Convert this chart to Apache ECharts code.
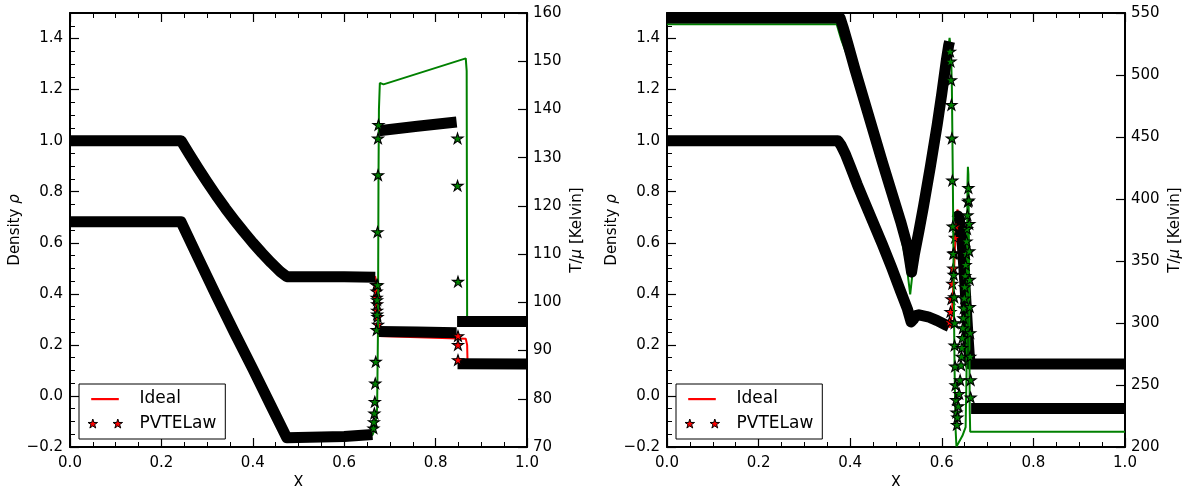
<!DOCTYPE html>
<html>
<head>
<meta charset="utf-8">
<script src="https://cdn.jsdelivr.net/npm/echarts@6/dist/echarts.min.js"></script>
<style>
  html, body { margin: 0; padding: 0; background: #ffffff; }
  #chart { width: 1189px; height: 486px; }
</style>
</head>
<body>
<div id="chart"></div>
<script>
// ---------------- axis ranges ----------------
const X_RANGE = [0, 1], X_STEP = 0.2;
const RHO_RANGE = [-0.2, 1.5], RHO_STEP = 0.2, RHO_MINOR_STEP = 0.05;
const T_RANGE_LEFT = [70, 160], T_STEP_LEFT = 10;
const T_RANGE_RIGHT = [200, 550], T_STEP_RIGHT = 50;

// ---------------- left panel: density ----------------
const lIdealRhoX = [0, 0.243, 0.26, 0.28, 0.30, 0.32, 0.34, 0.36, 0.38, 0.40, 0.42, 0.44, 0.46, 0.4745, 0.668, 0.672, 0.675, 0.866, 0.869, 0.870, 1.0];
const lIdealRhoY = [1.0, 1.0, 0.95, 0.893, 0.838, 0.785, 0.735, 0.688, 0.643, 0.600, 0.560, 0.522, 0.487, 0.467, 0.467, 0.40, 0.235, 0.224, 0.20, 0.125, 0.125];

const lRhoBandX = [0, 0.243, 0.26, 0.28, 0.30, 0.32, 0.34, 0.36, 0.38, 0.40, 0.42, 0.44, 0.46, 0.4745, 0.60, 0.668, 0.669, 0.676, 0.76, 0.846, 0.847, 0.848, 1.0];
const lRhoBandY = [1.0, 1.0, 0.95, 0.893, 0.838, 0.785, 0.735, 0.688, 0.643, 0.600, 0.560, 0.522, 0.487, 0.467, 0.467, 0.465, null, 0.252, 0.25, 0.248, null, 0.126, 0.125];

const lRhoStarX = [0.670, 0.671, 0.671, 0.672, 0.672, 0.673, 0.674, 0.849, 0.849, 0.849];
const lRhoStarY = [0.435, 0.41, 0.385, 0.36, 0.335, 0.31, 0.28, 0.235, 0.200, 0.141];

// ---------------- left panel: temperature ----------------
const lIdealTX = [0, 0.243, 0.28, 0.32, 0.36, 0.40, 0.44, 0.4745, 0.60, 0.662, 0.668, 0.672, 0.674, 0.675, 0.676, 0.678, 0.686, 0.866, 0.868, 0.869, 1.0];
const lIdealTY = [116.7, 116.7, 109.3, 101.4, 93.7, 86.2, 78.5, 71.9, 72.2, 72.5, 74.0, 78.0, 95, 125, 140, 145.5, 145.2, 150.6, 148, 96.0, 96.0];

const lTBandX = [0, 0.243, 0.28, 0.32, 0.36, 0.40, 0.44, 0.4745, 0.60, 0.662, 0.663, 0.676, 0.76, 0.846, 0.847, 0.847, 1.0];
const lTBandY = [116.7, 116.7, 109.3, 101.4, 93.7, 86.2, 78.5, 71.9, 72.2, 72.6, null, 135.6, 136.5, 137.4, null, 96.0, 96.0];

const lTStarX = [0.664, 0.665, 0.666, 0.667, 0.668, 0.669, 0.671, 0.672, 0.672, 0.673, 0.673, 0.674, 0.674, 0.675, 0.848, 0.848, 0.849];
const lTStarY = [73.9, 75.2, 77.0, 79.4, 83.2, 87.7, 94.3, 97.5, 100.5, 103.6, 114.6, 126.4, 134.0, 136.8, 134.0, 124.2, 104.3];

// ---------------- right panel: density ----------------
const rIdealRhoX = [0, 0.373, 0.38, 0.39, 0.40, 0.415, 0.43, 0.45, 0.47, 0.49, 0.51, 0.525, 0.533, 0.543, 0.55, 0.57, 0.59, 0.61, 0.618, 0.622, 0.627, 0.631, 0.634, 0.638, 0.645, 0.652, 0.657, 0.661, 0.663, 1.0];
const rIdealRhoY = [1.0, 1.0, 0.982, 0.945, 0.90, 0.83, 0.765, 0.68, 0.595, 0.505, 0.41, 0.34, 0.29, 0.315, 0.318, 0.31, 0.295, 0.277, 0.27, 0.32, 0.50, 0.68, 0.73, 0.70, 0.60, 0.40, 0.22, 0.13, 0.125, 0.125];

const rRhoBandX = [0, 0.373, 0.38, 0.39, 0.40, 0.415, 0.43, 0.45, 0.47, 0.49, 0.51, 0.525, 0.533, 0.538, 0.543, 0.55, 0.57, 0.59, 0.61, 0.616, 0.617, 0.633, 0.635, 0.638, 0.641, 0.645, 0.649, 0.653, 0.657, 0.660, 0.662, 1.0];
const rRhoBandY = [1.0, 1.0, 0.982, 0.945, 0.90, 0.83, 0.765, 0.68, 0.595, 0.505, 0.41, 0.34, 0.29, 0.30, 0.315, 0.318, 0.31, 0.295, 0.277, 0.272, null, 0.695, 0.705, 0.695, 0.66, 0.585, 0.48, 0.36, 0.24, 0.16, 0.125, 0.125];

const rRhoStarX = [0.617, 0.619, 0.621, 0.623, 0.625, 0.627, 0.629, 0.631];
const rRhoStarY = [0.29, 0.33, 0.38, 0.44, 0.50, 0.56, 0.62, 0.665];

// ---------------- right panel: temperature ----------------
const rIdealTX = [0, 0.3705, 0.38, 0.395, 0.41, 0.43, 0.45, 0.47, 0.49, 0.51, 0.522, 0.531, 0.536, 0.545, 0.56, 0.575, 0.59, 0.60, 0.61, 0.617, 0.620, 0.622, 0.624, 0.626, 0.628, 0.630, 0.632, 0.636, 0.645, 0.652, 0.654, 0.655, 0.656, 0.657, 0.658, 0.659, 0.660, 0.661, 0.662, 1.0];
const rIdealTY = [541, 541, 529, 514, 497, 472, 448, 423, 398, 371, 350, 323, 340, 362, 391, 423, 457, 482, 509, 530, 520, 490, 420, 330, 260, 215, 200.5, 203, 209, 216, 260, 340, 410, 426, 420, 380, 300, 230, 212.3, 212.3];

const rTBandX = [0, 0.378, 0.385, 0.395, 0.41, 0.43, 0.45, 0.47, 0.49, 0.51, 0.525, 0.534, 0.54, 0.55, 0.56, 0.575, 0.59, 0.60, 0.61, 0.615, 0.617, 0.618, 0.664, 1.0];
const rTBandY = [546, 546, 538, 525, 505, 480, 455, 430, 406, 382, 362, 341, 355, 374, 394, 426, 460, 485, 512, 524, 527, null, 231, 231];

const rTStarX = [0.618, 0.619, 0.620, 0.621, 0.622, 0.623, 0.624, 0.625, 0.626, 0.627, 0.628, 0.628, 0.629, 0.630, 0.631, 0.632, 0.633,
                 0.634, 0.636, 0.638, 0.640, 0.642, 0.643, 0.644, 0.645, 0.646, 0.647, 0.648, 0.649, 0.650, 0.651, 0.652, 0.653, 0.654, 0.655, 0.656, 0.657, 0.658,
                 0.659, 0.660, 0.660, 0.661, 0.661, 0.662, 0.662, 0.663, 0.663];
const rTStarY = [519, 511, 496, 476, 449, 415, 378, 356, 339, 321, 300, 282, 265, 250, 238, 228, 218,
                 224, 233, 243, 254, 266, 273, 280, 288, 296, 304, 312, 320, 329, 338, 347, 356, 366, 376, 387, 398, 409,
                 399, 380, 358, 335, 313, 292, 273, 254, 240];

// ---------------- helpers ----------------
const FONT = 'DejaVu Sans';
const RED = '#ff0000';
const GREEN = '#008000';

function pts(xs, ys) {
  return xs.map((x, i) => (ys[i] === null ? [x, '-'] : [x, ys[i]]));
}

// five-pointed star outline (matplotlib '*' proportions)
function starPath(cx, cy, r) {
  const ri = r * 0.382;
  let d = '';
  for (let k = 0; k < 10; k++) {
    const a = (-90 + k * 36) * Math.PI / 180;
    const rr = k % 2 === 0 ? r : ri;
    d += (k === 0 ? 'M' : 'L') + (cx + rr * Math.cos(a)).toFixed(3) + ',' + (cy + rr * Math.sin(a)).toFixed(3) + ' ';
  }
  return d + 'Z ';
}
const STAR = 'path://' + starPath(10, 10, 10);
const IDEAL_ICON = 'path://M0,0 M47,10 M3.7,4 L31.3,4 L31.3,6.2 L3.7,6.2 Z';
const PVTE_ICON = 'path://M0,0 M47,10 ' + starPath(5.3, 5, 5) + starPath(30.3, 5, 5);

const fmt1 = v => (Math.abs(v) < 1e-9 ? 0 : v).toFixed(1).replace('-', '\u2212');
const fmt0 = v => String(Math.round(v));

const labelStyle = { fontFamily: FONT, fontSize: 15, color: '#000' };
const nameStyle = { fontFamily: FONT, fontSize: 15, color: '#000',
  rich: { i: { fontFamily: FONT, fontSize: 15, fontStyle: 'italic', color: '#000' } } };

function xAxisBottom(gi) {
  return {
    type: 'value', gridIndex: gi, position: 'bottom', min: X_RANGE[0], max: X_RANGE[1], interval: X_STEP,
    name: 'X', nameLocation: 'middle', nameGap: 21, nameTextStyle: nameStyle,
    axisLine: { onZero: false, lineStyle: { color: '#000', width: 2 } },
    axisTick: { inside: true, length: 9, lineStyle: { color: '#000', width: 1.2 } },
    minorTick: { show: true, splitNumber: 4, length: 5, lineStyle: { color: '#000', width: 1 } },
    axisLabel: Object.assign({ margin: 9, formatter: fmt1 }, labelStyle),
    splitLine: { show: false }, minorSplitLine: { show: false }
  };
}
function xAxisTop(gi) {
  return {
    type: 'value', gridIndex: gi, position: 'top', min: X_RANGE[0], max: X_RANGE[1], interval: X_STEP,
    axisLine: { onZero: false, lineStyle: { color: '#000', width: 2 } },
    axisTick: { inside: true, length: 9, lineStyle: { color: '#000', width: 1.2 } },
    minorTick: { show: true, splitNumber: 4, length: 5, lineStyle: { color: '#000', width: 1 } },
    axisLabel: { show: false }, splitLine: { show: false }
  };
}
function yAxisDensity(gi) {
  return {
    type: 'value', gridIndex: gi, position: 'left', min: RHO_RANGE[0], max: RHO_RANGE[1], interval: RHO_STEP,
    name: 'Density {i|ρ}', nameLocation: 'middle', nameGap: 39, nameRotate: 90, nameTextStyle: nameStyle,
    axisLine: { onZero: false, lineStyle: { color: '#000', width: 2 } },
    axisTick: { inside: true, length: 9, lineStyle: { color: '#000', width: 1.2 } },
    axisLabel: Object.assign({ margin: 7, formatter: fmt1, showMaxLabel: false }, labelStyle),
    splitLine: { show: false }
  };
}
// minor ticks of the density axis every 0.05
function yAxisDensityMinor(gi) {
  return {
    type: 'value', gridIndex: gi, position: 'left', min: RHO_RANGE[0], max: RHO_RANGE[1], interval: RHO_MINOR_STEP,
    axisLine: { show: false, onZero: false },
    axisTick: { inside: true, length: 5, lineStyle: { color: '#000', width: 1 } },
    axisLabel: { show: false }, splitLine: { show: false }
  };
}
function yAxisTemp(gi, range, step) {
  return {
    type: 'value', gridIndex: gi, position: 'right', min: range[0], max: range[1], interval: step,
    name: 'T/{i|μ} [Kelvin]', nameLocation: 'middle', nameGap: 43, nameRotate: 90, nameTextStyle: nameStyle,
    axisLine: { onZero: false, lineStyle: { color: '#000', width: 2 } },
    axisTick: { inside: true, length: 9, lineStyle: { color: '#000', width: 1.2 } },
    axisLabel: Object.assign({ margin: 6, formatter: fmt0 }, labelStyle),
    splitLine: { show: false }
  };
}

function idealLine(name, xs, ys, xi, yi, color, z) {
  return {
    type: 'line', name, xAxisIndex: xi, yAxisIndex: yi, data: pts(xs, ys), z,
    symbol: 'none', showSymbol: false, silent: true, connectNulls: false,
    lineStyle: { color, width: 2 }, itemStyle: { color }
  };
}
// run of overlapping star markers, drawn as a thick black trace
function starBand(name, xs, ys, xi, yi, z) {
  return {
    type: 'line', name, xAxisIndex: xi, yAxisIndex: yi, data: pts(xs, ys), z,
    symbol: 'none', showSymbol: false, silent: true, connectNulls: false,
    lineStyle: { color: '#000', width: 11, join: 'round', cap: 'butt' }, itemStyle: { color: '#000' }
  };
}
function stars(name, xs, ys, xi, yi, fill, z) {
  return {
    type: 'scatter', name, xAxisIndex: xi, yAxisIndex: yi, data: pts(xs, ys), z,
    symbol: STAR, symbolSize: 11, symbolKeepAspect: true, silent: true,
    itemStyle: { color: fill, borderColor: '#000', borderWidth: 1.1, opacity: 1 }
  };
}
function legendAt(left) {
  return {
    left, top: 384, orient: 'vertical', selectedMode: false,
    padding: [5, 9, 5, 8], itemGap: 5, itemWidth: 47, itemHeight: 10,
    borderColor: '#000', borderWidth: 1, borderRadius: 0, backgroundColor: '#ffffff',
    textStyle: { fontFamily: FONT, fontSize: 17, color: '#000', lineHeight: 20 },
    data: [
      { name: 'Ideal', icon: IDEAL_ICON, itemStyle: { color: RED, borderWidth: 0 } },
      { name: 'PVTELaw', icon: PVTE_ICON, itemStyle: { color: RED, borderColor: '#000', borderWidth: 1 } }
    ]
  };
}

const chart = echarts.init(document.getElementById('chart'), null, { renderer: 'canvas', width: 1189, height: 486 });

chart.setOption({
  animation: false,
  backgroundColor: '#ffffff',
  textStyle: { fontFamily: FONT },
  grid: [
    { left: 70, top: 13, width: 457, height: 434, containLabel: false, outerBoundsMode: 'none' },
    { left: 667, top: 13, width: 458, height: 434, containLabel: false, outerBoundsMode: 'none' }
  ],
  legend: [legendAt(79), legendAt(676)],
  xAxis: [xAxisBottom(0), xAxisTop(0), xAxisBottom(1), xAxisTop(1)],
  yAxis: [
    yAxisDensity(0), yAxisTemp(0, T_RANGE_LEFT, T_STEP_LEFT), yAxisDensityMinor(0),
    yAxisDensity(1), yAxisTemp(1, T_RANGE_RIGHT, T_STEP_RIGHT), yAxisDensityMinor(1)
  ],
  series: [
    // left panel
    idealLine('Ideal', lIdealRhoX, lIdealRhoY, 0, 0, RED, 2),
    starBand('PVTELaw density', lRhoBandX, lRhoBandY, 0, 0, 3),
    stars('PVTELaw', lRhoStarX, lRhoStarY, 0, 0, RED, 4),
    idealLine('Ideal temperature', lIdealTX, lIdealTY, 0, 1, GREEN, 5),
    starBand('PVTELaw temperature', lTBandX, lTBandY, 0, 1, 6),
    stars('PVTELaw temperature stars', lTStarX, lTStarY, 0, 1, GREEN, 7),
    // right panel
    idealLine('Ideal', rIdealRhoX, rIdealRhoY, 2, 3, RED, 2),
    starBand('PVTELaw density', rRhoBandX, rRhoBandY, 2, 3, 3),
    stars('PVTELaw', rRhoStarX, rRhoStarY, 2, 3, RED, 4),
    idealLine('Ideal temperature', rIdealTX, rIdealTY, 2, 4, GREEN, 5),
    starBand('PVTELaw temperature', rTBandX, rTBandY, 2, 4, 6),
    stars('PVTELaw temperature stars', rTStarX, rTStarY, 2, 4, GREEN, 7)
  ]
});
</script>
</body>
</html>
